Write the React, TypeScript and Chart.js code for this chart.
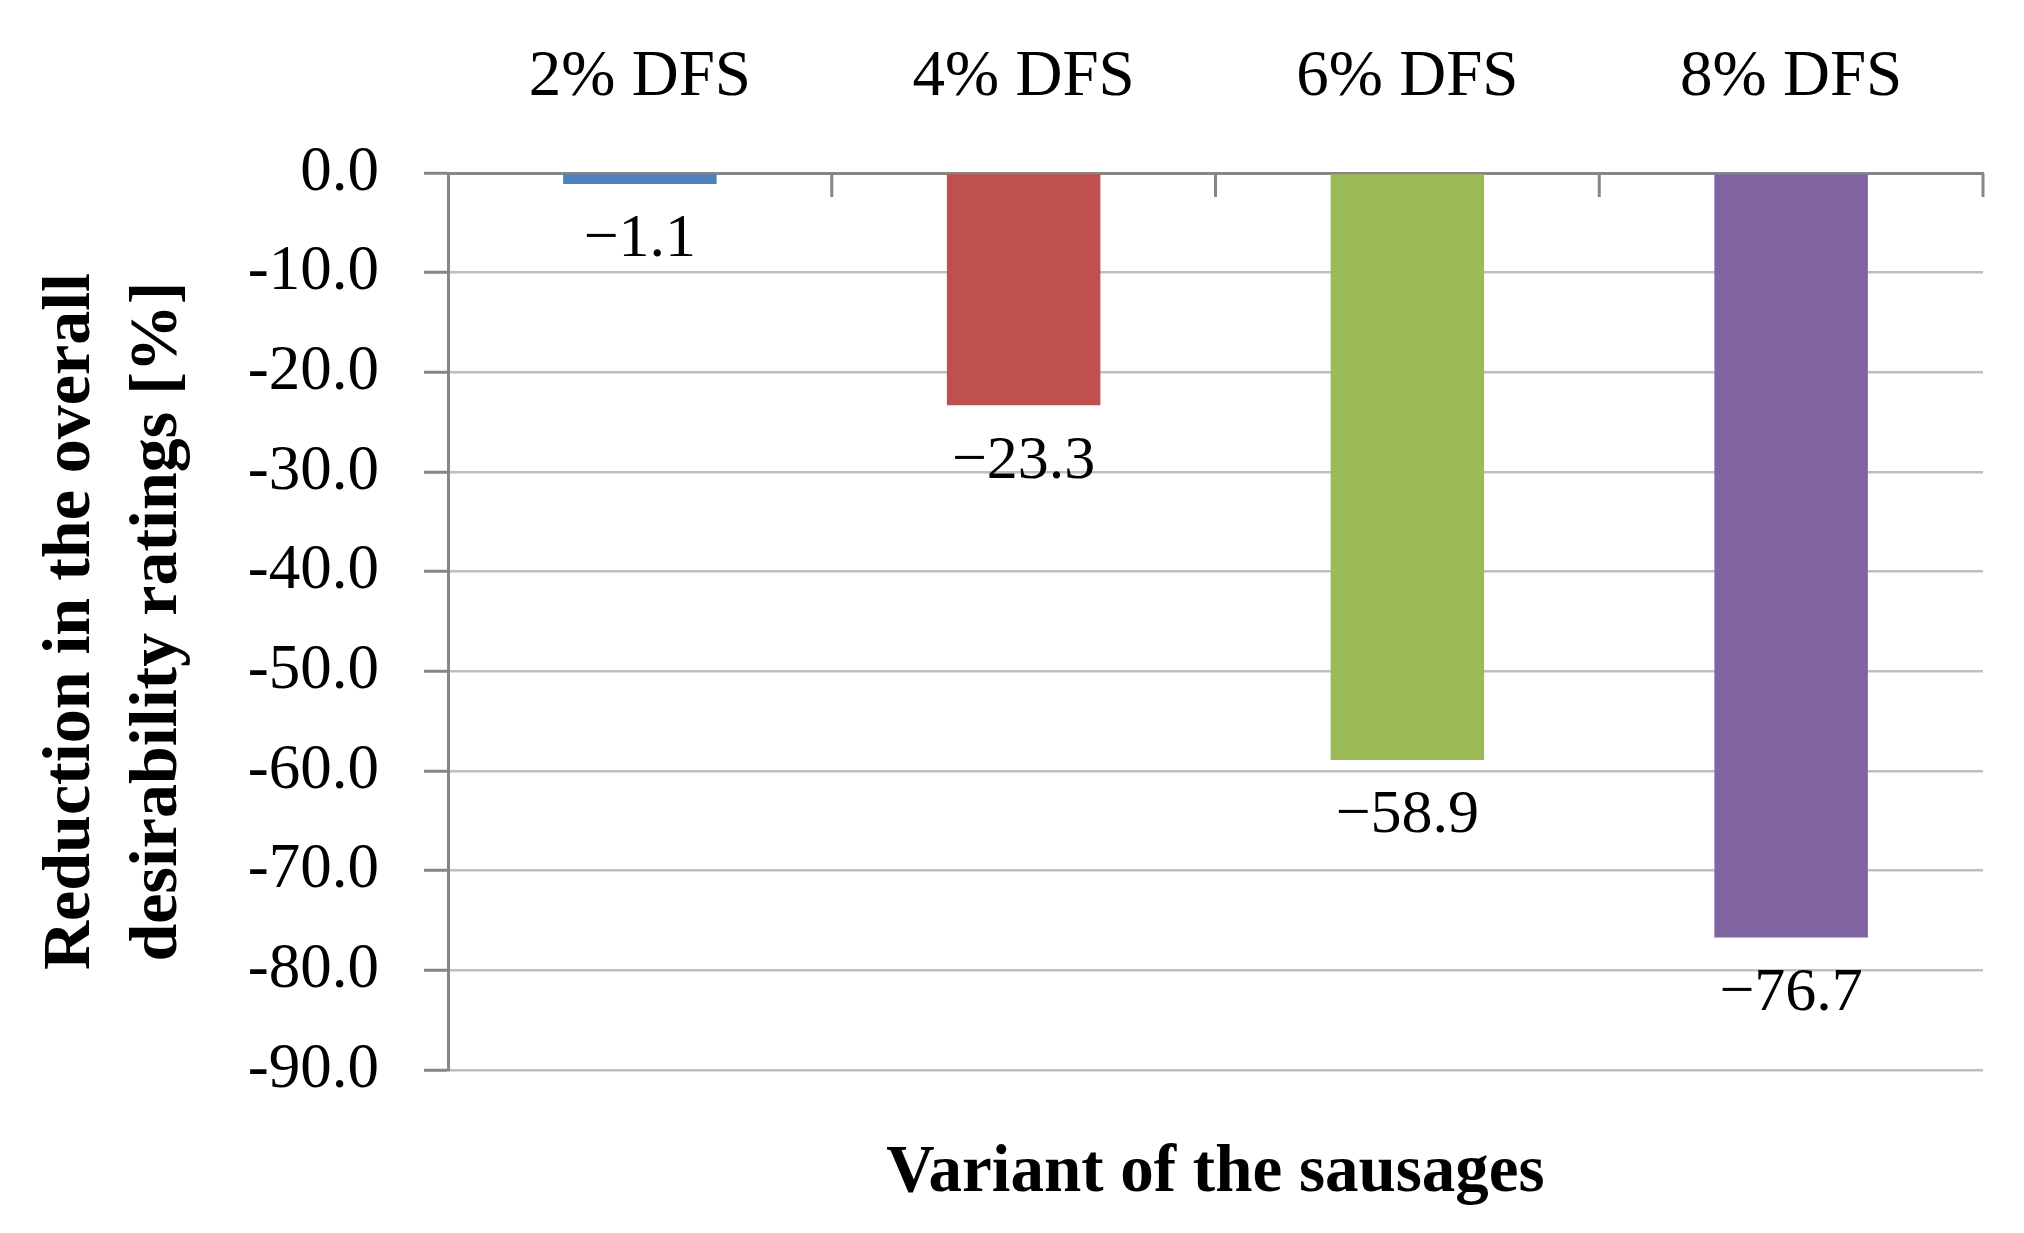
import React, { useEffect, useRef } from "react";
import { Chart, registerables } from "chart.js";

Chart.register(...registerables);

const categories: string[] = ["2% DFS", "4% DFS", "6% DFS", "8% DFS"];
const reductionValues: number[] = [-1.1, -23.3, -58.9, -76.7];
const barColors: string[] = ["#4F81BD", "#C0504D", "#9BBB59", "#8064A2"];
const yTitleLines: string[] = ["Reduction in the overall", "desirability ratings [%]"];
const xTitle = "Variant of the sausages";
const yMin = -90;
const yMax = 0;
const yStep = 10;

const SERIF = "'Liberation Serif', 'Times New Roman', serif";
const AXIS_GRAY = "#868686";
const GRID_GRAY = "#bfbfbf";

const dataLabelPlugin = {
  id: "dataLabels",
  afterDatasetsDraw(chart: any) {
    const ctx = chart.ctx;
    const meta = chart.getDatasetMeta(0);
    const values = chart.data.datasets[0].data as number[];
    ctx.save();
    ctx.font = `62px ${SERIF}`;
    ctx.fillStyle = "#000";
    ctx.textAlign = "center";
    ctx.textBaseline = "middle";
    meta.data.forEach((bar: any, i: number) => {
      const v = values[i];
      const txt = (v < 0 ? "\u2212" : "") + Math.abs(v).toFixed(1);
      ctx.fillText(txt, bar.x, bar.y + 56);
    });
    ctx.restore();
  },
};

const categoryTickPlugin = {
  id: "categoryTicks",
  afterDatasetsDraw(chart: any) {
    const ctx = chart.ctx;
    const xs = chart.scales.x;
    const n = chart.data.labels.length;
    const w = xs.width / n;
    const top = chart.chartArea.top;
    ctx.save();
    ctx.strokeStyle = AXIS_GRAY;
    ctx.lineWidth = 3;
    for (let i = 0; i < n; i++) {
      const bx = xs.getPixelForValue(i) + w / 2;
      ctx.beginPath();
      ctx.moveTo(bx, top);
      ctx.lineTo(bx, top + 24);
      ctx.stroke();
    }
    ctx.restore();
  },
};

export default function App() {
  const canvasRef = useRef<HTMLCanvasElement | null>(null);

  useEffect(() => {
    document.body.style.margin = "0";
    const canvas = canvasRef.current;
    if (!canvas) return;
    const chart = new Chart(canvas, {
      type: "bar",
      data: {
        labels: categories,
        datasets: [
          {
            data: reductionValues,
            backgroundColor: barColors,
            borderWidth: 0,
            categoryPercentage: 1,
            barPercentage: 0.4,
          },
        ],
      },
      plugins: [dataLabelPlugin, categoryTickPlugin],
      options: {
        responsive: false,
        animation: false,
        devicePixelRatio: 1,
        layout: { padding: { left: 0, right: 41, top: 0, bottom: 0 } },
        plugins: {
          legend: { display: false },
          tooltip: { enabled: false },
          title: { display: false },
        },
        scales: {
          x: {
            type: "category",
            position: "top",
            grid: { display: false, drawTicks: false },
            border: { display: true, color: AXIS_GRAY, width: 3 },
            ticks: {
              color: "#000",
              font: { family: SERIF, size: 65 },
              padding: 56,
              maxRotation: 0,
              autoSkip: false,
            },
            afterFit: (axis: any) => {
              axis.height = 173;
            },
          },
          x2: {
            type: "category",
            position: "bottom",
            grid: { display: false, drawTicks: false },
            border: { display: false },
            ticks: { display: false },
            title: {
              display: true,
              text: xTitle,
              color: "#000",
              font: { family: SERIF, size: 67, weight: "bold" },
              padding: { top: 0, bottom: 19 },
            },
            afterFit: (axis: any) => {
              axis.height = 163;
            },
          },
          y: {
            type: "linear",
            min: yMin,
            max: yMax,
            grid: {
              color: (c: any) => (c.tick && c.tick.value === 0 ? AXIS_GRAY : GRID_GRAY),
              lineWidth: 2.5,
              tickColor: AXIS_GRAY,
              tickLength: 24,
              tickWidth: 3,
            },
            border: { display: true, color: AXIS_GRAY, width: 3 },
            ticks: {
              stepSize: yStep,
              color: "#000",
              font: { family: SERIF, size: 63 },
              padding: 45,
              callback: (v: any) => Number(v).toFixed(1),
            },
            title: {
              display: true,
              text: yTitleLines,
              color: "#000",
              font: { family: SERIF, size: 68, weight: "bold", lineHeight: 1.28 },
              padding: { top: 28, bottom: 0 },
            },
            afterFit: (axis: any) => {
              axis.width = 448;
            },
          },
        },
      },
    });
    return () => {
      chart.destroy();
    };
  }, []);

  return (
    <canvas
      ref={canvasRef}
      width={2024}
      height={1233}
      style={{ position: "absolute", left: 0, top: 0, display: "block", width: 2024, height: 1233 }}
    />
  );
}
